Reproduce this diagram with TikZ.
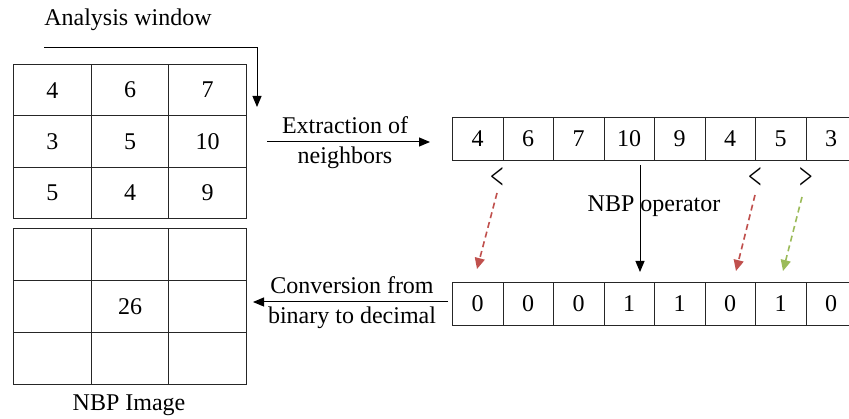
\documentclass[tikz,border=0pt]{standalone}
\usepackage{fontspec}
\usepackage{graphicx}
\setmainfont{Liberation Serif}
\usetikzlibrary{arrows.meta,calc}
\definecolor{dred}{HTML}{C0504D}
\definecolor{dgreen}{HTML}{9BBB59}
\begin{document}
\begin{tikzpicture}[x=1pt,y=-1pt,
  txt/.style={font=\fontsize{24}{26}\selectfont, inner sep=0pt},
  gcell/.style={draw=black!85, line width=0.9pt, minimum width=77.7pt, minimum height=51.33pt, inner sep=0pt, font=\fontsize{24}{26}\selectfont, anchor=north west},
  hcell/.style={gcell, minimum height=52pt},
  acell/.style={draw=black!85, line width=0.9pt, minimum width=50.5pt, minimum height=43pt, inner sep=0pt, font=\fontsize{24}{26}\selectfont, anchor=north west},
  cmp/.style={font=\fontsize{24}{26}\selectfont, inner sep=0pt},
  arr/.style={line width=1pt, -{Triangle[length=11pt,width=9pt]}},
  darr/.style={line width=1.6pt, dash pattern=on 6pt off 4pt, -{Triangle[length=11pt,width=10pt]}}]
\useasboundingbox (0,0) rectangle (849,419);
% top grid
\foreach \r/\vals in {0/{4,6,7},1/{3,5,10},2/{5,4,9}}{
  \foreach \v [count=\c from 0] in \vals {
    \node[gcell] (g\r\c) at (13+77.7*\c, 64+51.33*\r) {\v};
  }
}
% bottom grid
\foreach \r in {0,1,2}{
  \foreach \c in {0,1,2}{
    \node[hcell] (h\r\c) at (13+77.7*\c, 228+52*\r) {};
  }
}
\node[txt] at (h11) {26};
\node[txt] (ai) at (129,405) {NBP Image};
% analysis window
\node[txt] (aw) at (128,20) {Analysis window};
\coordinate (aws) at (44,48);
\coordinate (awc) at (257,48);
\coordinate (awe) at (257,107);
\draw[arr] (aws) -- (awc) -- (awe);
% upper array
\foreach \v [count=\i from 0] in {4,6,7,10,9,4,5,3}{
  \node[acell] (a\i) at (452+50.5*\i,117) {\v};
}
% lower array
\foreach \v [count=\i from 0] in {0,0,0,1,1,0,1,0}{
  \node[acell] (b\i) at (452+50.5*\i,282) {\v};
}
% extraction
\coordinate (ex1) at (267,142);
\coordinate (ex2) at (430,142);
\draw[arr] (ex1) -- (ex2);
\node[txt] (ext1) at (345,125) {Extraction of};
\node[txt] (ext2) at (345,158) {neighbors};
% conversion
\coordinate (cv1) at (448,302);
\coordinate (cv2) at (253,302);
\draw[arr] (cv1) -- (cv2);
\node[txt] (cvt1) at (352,285) {Conversion from};
\node[txt] (cvt2) at (352,318) {binary to decimal};
% NBP operator
\node[txt] (op) at (654,206) {NBP operator};
\coordinate (op1) at (640,165);
\coordinate (op2) at (640,272);
\draw[arr] (op1) -- (op2);
% comparison signs
\node[cmp] (lt1) at (497,178) {\scalebox{1}[1.6]{<}};
\node[cmp] (lt2) at (755,178) {\scalebox{1}[1.6]{<}};
\node[cmp] (gt1) at (806,178) {\scalebox{1}[1.6]{>}};
% dashed arrows
\coordinate (d1s) at (497,193); \coordinate (d1e) at (477,269);
\coordinate (d2s) at (755,195); \coordinate (d2e) at (736,271);
\coordinate (d3s) at (802,197); \coordinate (d3e) at (783,271);
\draw[darr, dred] (d1s) -- (d1e);
\draw[darr, dred] (d2s) -- (d2e);
\draw[darr, dgreen] (d3s) -- (d3e);
\end{tikzpicture}
\end{document}
